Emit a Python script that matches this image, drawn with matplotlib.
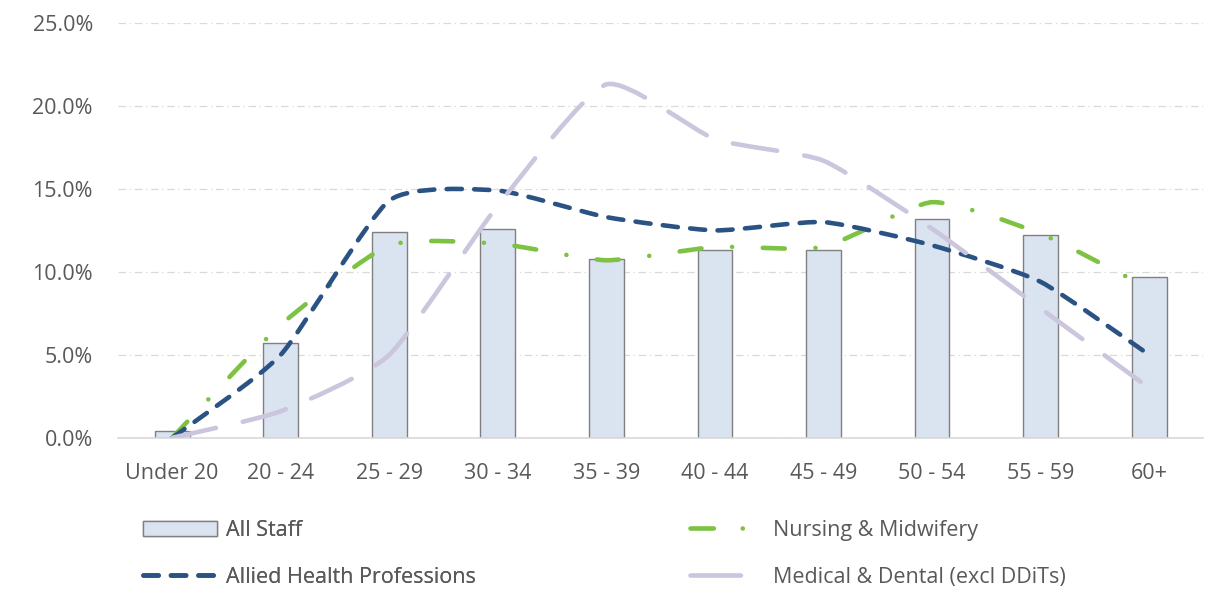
import numpy as np
import matplotlib
matplotlib.use("Agg")
import matplotlib.pyplot as plt
from matplotlib.path import Path
from matplotlib.patches import PathPatch, Patch
from matplotlib.lines import Line2D
from matplotlib.ticker import FuncFormatter, MultipleLocator

plt.rcParams['font.family'] = ['Open Sans', 'DejaVu Sans']

age_bands = ["Under 20", "20 - 24", "25 - 29", "30 - 34", "35 - 39",
             "40 - 44", "45 - 49", "50 - 54", "55 - 59", "60+"]
all_staff = [0.4, 5.7, 12.4, 12.6, 10.8, 11.3, 11.3, 13.2, 12.2, 9.7]
nursing = [0.0, 6.8, 11.6, 11.7, 10.7, 11.5, 11.5, 14.2, 12.3, 9.0]
allied = [0.0, 5.0, 14.3, 14.9, 13.3, 12.5, 13.0, 11.6, 9.4, 5.0]
medical = [0.0, 1.6, 5.0, 14.0, 21.3, 18.0, 16.7, 12.6, 7.8, 3.0]

C_BAR = "#dae3f0"
C_BAR_EDGE = "#808080"
C_NURSE = "#7dc242"
C_ALLIED = "#2a5384"
C_MED = "#cbc5dd"
C_TEXT = "#595959"
C_GRID = "#d9d9d9"
FS = 15.5


def smooth_path(xs, ys, k=0.095):
    """Cubic Bezier path through the data points (gently smoothed)."""
    pts = np.column_stack([xs, ys]).astype(float)
    n = len(pts)
    verts = [pts[0]]
    codes = [Path.MOVETO]
    for i in range(n - 1):
        p0 = pts[max(i - 1, 0)]
        p1 = pts[i]
        p2 = pts[i + 1]
        p3 = pts[min(i + 2, n - 1)]
        c1 = p1 + (p2 - p0) * k
        c2 = p2 - (p3 - p1) * k
        verts += [c1, c2, p2]
        codes += [Path.CURVE4] * 3
    return Path(verts, codes)


fig = plt.figure(figsize=(12.28, 5.90), dpi=100)
ax = fig.add_axes([0.096, 0.258, 0.884, 0.703])

x = np.arange(len(age_bands))
ax.bar(x, all_staff, width=0.32, color=C_BAR, edgecolor=C_BAR_EDGE,
       linewidth=1.0, zorder=2)

LW = 3.3
LS_NURSE = (0, (4.8, 6.7, 0.01, 6.7))
LS_ALLIED = (0, (3.3, 2.7))
LS_MED = (0, (9.8, 6.0))
for vals, col, ls in [(nursing, C_NURSE, LS_NURSE),
                      (allied, C_ALLIED, LS_ALLIED),
                      (medical, C_MED, LS_MED)]:
    ax.add_patch(PathPatch(smooth_path(x, vals), fill=False, edgecolor=col,
                           linewidth=LW, linestyle=ls, capstyle='round',
                           joinstyle='round', zorder=3))

ax.set_xlim(-0.5, len(age_bands) - 0.5)
ax.set_ylim(0, 25)
ax.yaxis.set_major_locator(MultipleLocator(5))
ax.yaxis.set_major_formatter(FuncFormatter(lambda v, p: f"{v:.1f}%"))
ax.set_xticks(x)
ax.set_xticklabels(age_bands)

ax.grid(axis='y', color=C_GRID, linestyle=(0, (6, 3, 1, 3)), linewidth=0.9,
        zorder=0)
ax.set_axisbelow(True)
for s in ['top', 'right', 'left']:
    ax.spines[s].set_visible(False)
ax.spines['bottom'].set_color("#d9d9d9")
ax.spines['bottom'].set_linewidth(1.2)
ax.tick_params(axis='both', length=0, labelsize=FS, colors=C_TEXT)
ax.tick_params(axis='y', pad=18)
ax.tick_params(axis='x', pad=18)

leg_kw = dict(loc='upper left', frameon=False, fontsize=FS,
              labelspacing=1.2, borderpad=0, borderaxespad=0,
              labelcolor=C_TEXT)

leg1 = fig.legend(
    [Patch(facecolor=C_BAR, edgecolor=C_BAR_EDGE, linewidth=1.0),
     Line2D([], [], color=C_ALLIED, lw=LW, linestyle=LS_ALLIED,
            dash_capstyle='round')],
    ["All Staff", "Allied Health Professions"],
    bbox_to_anchor=(143 / 1228, 1 - 520 / 590), handlelength=3.45,
    handletextpad=0.4, **leg_kw)
fig.add_artist(leg1)

fig.legend(
    [Line2D([], [], color=C_NURSE, lw=LW, linestyle=(0, (5.1, 6.3, 0.01, 20)),
            dash_capstyle='round'),
     Line2D([], [], color=C_MED, lw=LW, linestyle=(0, (11.0, 20.0)),
            dash_capstyle='round')],
    ["Nursing & Midwifery", "Medical & Dental (excl DDiTs)"],
    bbox_to_anchor=(690 / 1228, 1 - 520 / 590), handlelength=2.75,
    handletextpad=1.1, **leg_kw)

fig.savefig("out.png", dpi=100, facecolor="white")
